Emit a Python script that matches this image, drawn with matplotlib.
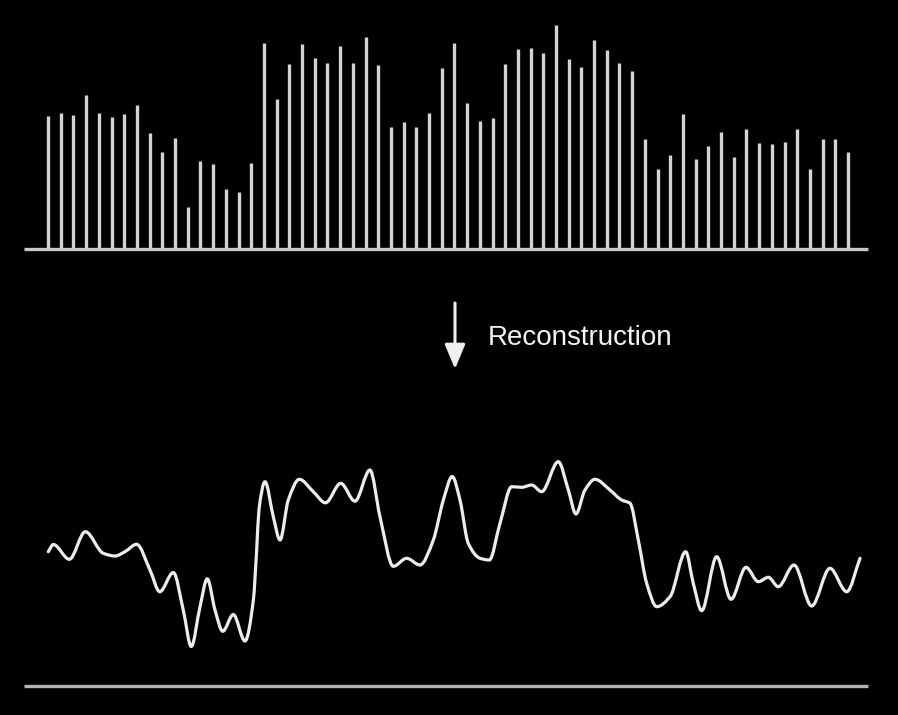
import numpy as np
import matplotlib
matplotlib.use("Agg")
import matplotlib.pyplot as plt
from matplotlib.path import Path
from matplotlib.patches import PathPatch

# ---- data: sampled values (stem heights) ----
sample_index = list(range(1, 65))
sample_values = [133, 136, 134, 154, 136, 132, 135, 144, 116, 97, 111, 42, 88, 85, 60, 57,
                 86, 206, 150, 185, 205, 191, 186, 203, 186, 212, 184, 122, 127, 122, 136, 181,
                 206, 146, 128, 131, 185, 200, 201, 196, 224, 190, 182, 209, 199, 186, 178, 110,
                 80, 94, 135, 90, 103, 117, 92, 120, 106, 105, 107, 120, 80, 110, 110, 97]

# ---- data: reconstructed waveform (traced) ----
curve_t = [1.02, 1.42, 2.68, 3.94, 5.35, 6.28, 7.06, 7.98, 9.03, 9.80, 10.87, 11.65, 12.28,
           12.97, 13.54, 14.15, 14.76, 15.59, 16.51, 17.17, 17.43, 17.61, 18.09, 18.74, 19.27,
           19.92, 20.79, 21.89, 22.85, 24.05, 25.17, 26.35, 27.14, 28.19, 29.24, 30.29, 31.34,
           32.13, 32.83, 33.44, 34.09, 35.02, 35.75, 36.59, 37.51, 38.30, 39.09, 39.87, 41.18,
           41.97, 42.57, 43.28, 44.07, 45.25, 46.17, 46.83, 47.48, 48.14, 48.93, 49.98, 51.21,
           51.81, 52.47, 53.65, 54.78, 55.96, 56.93, 57.72, 58.50, 59.74, 61.13, 62.57, 63.89,
           64.94]
curve_amp = [134.3, 141.5, 126.7, 154.3, 132.7, 130, 134.3, 141.7, 116, 94.3, 113.5, 76, 39.5,
             79.3, 107.2, 76, 54.7, 71.5, 45, 86, 136, 176, 204.3, 169.3, 146,
             186, 206.7, 194.3, 183.2, 202.7, 184.8, 216, 169.3, 119.7, 127.7, 121, 146,
             186, 209.5, 186, 142.7, 127.7, 126, 162.7, 199.3, 198.7, 201, 194.3, 224.3,
             196, 172, 196, 206.7, 196, 186, 182.7, 146, 102.7, 79.3, 89.3, 134.3,
             102.7, 75.3, 129.3, 86.7, 118.7, 104.3, 108.7, 99.3, 121, 80, 117.7, 94.3,
             127.7]

label_text = "Reconstruction"

W, H = 898, 715
fig = plt.figure(figsize=(W / 100, H / 100), dpi=100, facecolor="black")

xlim = (1 + (0 - 48) / 12.7, 1 + (898 - 48) / 12.7)
line_x0, line_x1 = 1 + (24 - 48) / 12.7, 1 + (868 - 48) / 12.7

# top axes: stems
ax1 = fig.add_axes([0, (H - 249) / H, 1, 229 / H])
ax1.set_facecolor("black")
ax1.set_xlim(*xlim)
ax1.set_ylim(0, 229)
ax1.vlines(sample_index, 0, sample_values, colors="#d4d4d4", linewidth=2.4, capstyle="butt")
ax1.hlines(0, line_x0, line_x1, colors="#c8c8c8", linewidth=2.4, clip_on=False)
ax1.axis("off")

# bottom axes: reconstructed curve
ax2 = fig.add_axes([0, (H - 686) / H, 1, 246 / H])
ax2.set_facecolor("black")
ax2.set_xlim(*xlim)
ax2.set_ylim(0, 246)
ax2.axis("off")

x = np.asarray(curve_t, float)
y = np.asarray(curve_amp, float)
h = np.diff(x)
d = np.diff(y) / h
m = np.zeros_like(y)
m[0], m[-1] = d[0], d[-1]
for k in range(1, len(x) - 1):
    if d[k - 1] * d[k] <= 0:
        m[k] = 0.0
    else:
        w1 = 2 * h[k] + h[k - 1]
        w2 = h[k] + 2 * h[k - 1]
        m[k] = (w1 + w2) / (w1 / d[k - 1] + w2 / d[k])
verts = [(x[0], y[0])]
codes = [Path.MOVETO]
for k in range(len(x) - 1):
    verts += [(x[k] + h[k] / 3, y[k] + m[k] * h[k] / 3),
              (x[k + 1] - h[k] / 3, y[k + 1] - m[k + 1] * h[k] / 3),
              (x[k + 1], y[k + 1])]
    codes += [Path.CURVE4] * 3
ax2.add_patch(PathPatch(Path(verts, codes), facecolor="none", edgecolor="#ececec",
                        linewidth=2.3, capstyle="round", joinstyle="round"))
ax2.hlines(0, line_x0, line_x1, colors="#b4b4b4", linewidth=2.4, clip_on=False)

# overlay for arrow and label
ax3 = fig.add_axes([0, 0, 1, 1])
ax3.set_xlim(0, W)
ax3.set_ylim(H, 0)
ax3.axis("off")
ax3.patch.set_alpha(0)
ax3.annotate("", xy=(455, 369), xytext=(455, 303),
             arrowprops=dict(arrowstyle="-|>,head_length=0.6,head_width=0.25",
                             lw=2.2, color="#f0f0f0", mutation_scale=25,
                             shrinkA=0, shrinkB=0))
ax3.text(488, 345, label_text, fontsize=20, family="Liberation Sans",
         color="#f2f2f2", ha="left", va="baseline")

fig.savefig("out.png", dpi=100, facecolor="black")
